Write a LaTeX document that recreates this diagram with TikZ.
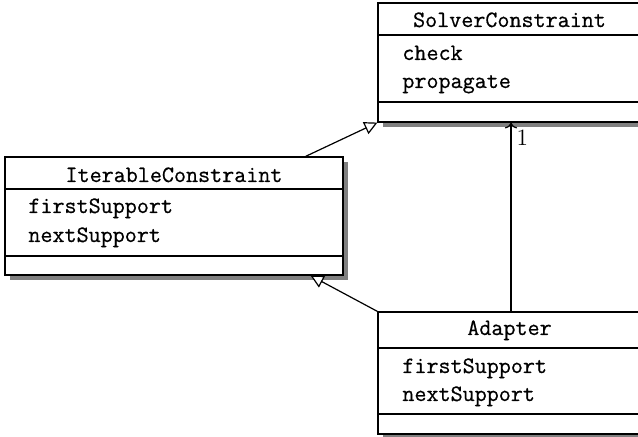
\documentclass[tikz,border=0pt]{standalone}
\usepackage{fontspec}
\setmonofont{Latin Modern Mono}[FakeBold=0.6]
\usetikzlibrary{shadows,fit,arrows.meta}
\definecolor{shadowgray}{RGB}{128,128,128}
\tikzset{
  classbox/.style={draw, line width=0.6pt, fill=white, inner sep=0pt,
    drop shadow={shadow xshift=2.5pt, shadow yshift=-2.5pt, opacity=1, fill=shadowgray}},
  divider/.style={line width=0.6pt},
  tt/.style={inner sep=0pt, font=\fontsize{11.7}{14}\selectfont\ttfamily},
  gen/.style={line width=0.6pt, -{Triangle[open, length=6.5pt, width=6.5pt, fill=white]}},
  assoc/.style={line width=0.6pt, ->},
}
\begin{document}
\begin{tikzpicture}[x=0.5pt,y=-0.5pt]
\useasboundingbox (0,0) rectangle (638,437);
% SolverConstraint
\node[classbox, fit={(378,3) (641,122)}] (S) {};
\draw[divider] (S.west |- 0,35) -- (S.east |- 0,35);
\draw[divider] (S.west |- 0,102) -- (S.east |- 0,102);
\node[tt, anchor=base] (Sname) at (509.5,27) {SolverConstraint};
\node[tt, anchor=base west] (Scheck) at (402,60) {check};
\node[tt, anchor=base west] (Sprop) at (402,88) {propagate};
% IterableConstraint
\node[classbox, fit={(5,157) (343,275)}] (I) {};
\draw[divider] (I.west |- 0,189) -- (I.east |- 0,189);
\draw[divider] (I.west |- 0,256) -- (I.east |- 0,256);
\node[tt, anchor=base] (Iname) at (174,182) {IterableConstraint};
\node[tt, anchor=base west] (Ifirst) at (28,213) {firstSupport};
\node[tt, anchor=base west] (Inext) at (28,242) {nextSupport};
% Adapter
\node[classbox, fit={(378,312) (641,434)}] (A) {};
\draw[divider] (A.west |- 0,348) -- (A.east |- 0,348);
\draw[divider] (A.west |- 0,414) -- (A.east |- 0,414);
\node[tt, anchor=base] (Aname) at (509.5,335) {Adapter};
\node[tt, anchor=base west] (Afirst) at (402,373) {firstSupport};
\node[tt, anchor=base west] (Anext) at (402,401) {nextSupport};
% connectors
\draw[gen] ([xshift=-19pt]I.north east) -- (S.south west);
\draw[gen] (A.north west) -- ([xshift=-16.5pt]I.south east);
\draw[assoc] ([xshift=0.75pt]A.north) -- ([xshift=0.75pt]S.south)
  node[pos=0.92, anchor=west, inner sep=2.5pt, font=\fontsize{11.7}{14}\selectfont] (one) {1};
\end{tikzpicture}
\end{document}
